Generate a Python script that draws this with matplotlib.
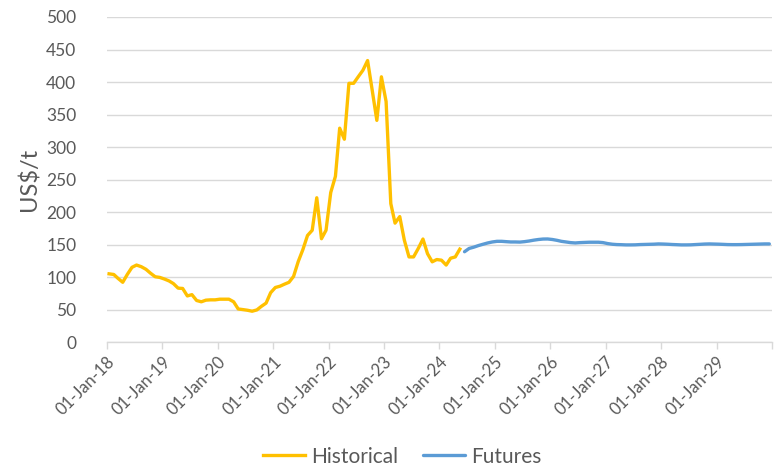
import matplotlib
matplotlib.use("Agg")
import matplotlib.pyplot as plt
import pandas as pd

plt.rcParams['font.family'] = ['Lato', 'DejaVu Sans']

# monthly prices, US$/t (mid-month)
hist_start = "2018-01-01"
hist_values = [105, 104, 98, 92, 104, 115, 118.5, 116, 112, 106, 100.5, 99.5,
               97, 94, 90, 83, 82.5, 71, 73, 64, 62, 64.5, 65, 65,
               66, 66, 66, 62, 51, 50, 49, 47.5, 49.5, 55, 60, 76,
               84, 86, 89, 92, 101, 124, 142, 164, 172, 222, 159, 172,
               230, 255, 329, 312, 398, 398, 408, 418, 433, 388, 341, 408,
               370, 213, 183, 193, 157, 131, 131, 144, 158.5, 136, 123.5, 127,
               126, 118.5, 129, 131, 143]

fut_start = "2024-06-01"
fut_values = [139, 144, 146, 148.5, 150.5, 152.5, 154,
              155, 155, 154.5, 154, 154, 153.8, 154.5, 155.5, 156.8, 157.8, 158.5, 158.6,
              157.8, 156.5, 155, 154, 153, 152.5, 153, 153.3, 153.6, 153.6, 153.6, 153,
              151.5, 150.5, 150, 149.8, 149.5, 149.5, 149.6, 150, 150.2, 150.4, 150.6, 151,
              150.8, 150.5, 150.1, 149.8, 149.5, 149.5, 149.6, 150, 150.4, 150.8, 151, 150.8,
              150.6, 150.3, 150, 149.9, 149.9, 150, 150.2, 150.4, 150.6, 150.8, 151, 151]

hist_dates = pd.date_range(hist_start, periods=len(hist_values), freq="MS") + pd.Timedelta(days=14)
fut_dates = pd.date_range(fut_start, periods=len(fut_values), freq="MS") + pd.Timedelta(days=14)

grey_text = "#595959"
grid_col = "#D9D9D9"

fig = plt.figure(figsize=(7.75, 4.68), dpi=100)
ax = fig.add_axes([0.138, 0.269, 0.858, 0.6947])

ax.plot(hist_dates, hist_values, color="#FFC000", lw=2.4, label="Historical", solid_joinstyle="round")
ax.plot(fut_dates, fut_values, color="#5B9BD5", lw=2.4, label="Futures", solid_capstyle="round")

ax.set_ylim(0, 500)
ax.set_yticks(range(0, 501, 50))
ax.set_xlim(pd.Timestamp("2018-01-01"), pd.Timestamp("2030-01-01"))
years = [pd.Timestamp(f"{y}-01-01") for y in range(2018, 2031)]
ax.set_xticks(years)
ax.set_xticklabels([d.strftime("%d-%b-%y") for d in years[:-1]] + [""])

ax.grid(axis="y", color=grid_col, lw=1)
ax.set_axisbelow(True)
for s in ["left", "right", "top"]:
    ax.spines[s].set_visible(False)
ax.spines["bottom"].set_color(grid_col)
ax.spines["bottom"].set_linewidth(1)

ax.tick_params(axis="y", length=0, pad=22, labelsize=12.5, labelcolor=grey_text)
ax.tick_params(axis="x", length=5, color=grid_col, width=1, labelsize=12, labelcolor=grey_text, pad=3)
for lab in ax.get_xticklabels():
    lab.set_rotation(45)
    lab.set_ha("right")
    lab.set_va("top")
    lab.set_rotation_mode("anchor")

ax.set_ylabel("US$/t", fontsize=17, color=grey_text)
ax.yaxis.set_label_coords(-0.1, 0.5)

fig.legend(loc="center", bbox_to_anchor=(0.519, 0.024), ncol=2, frameon=False,
           fontsize=15, labelcolor=grey_text, handlelength=2.0, handletextpad=0.3,
           columnspacing=1.2)

fig.savefig("out.png", dpi=100)
